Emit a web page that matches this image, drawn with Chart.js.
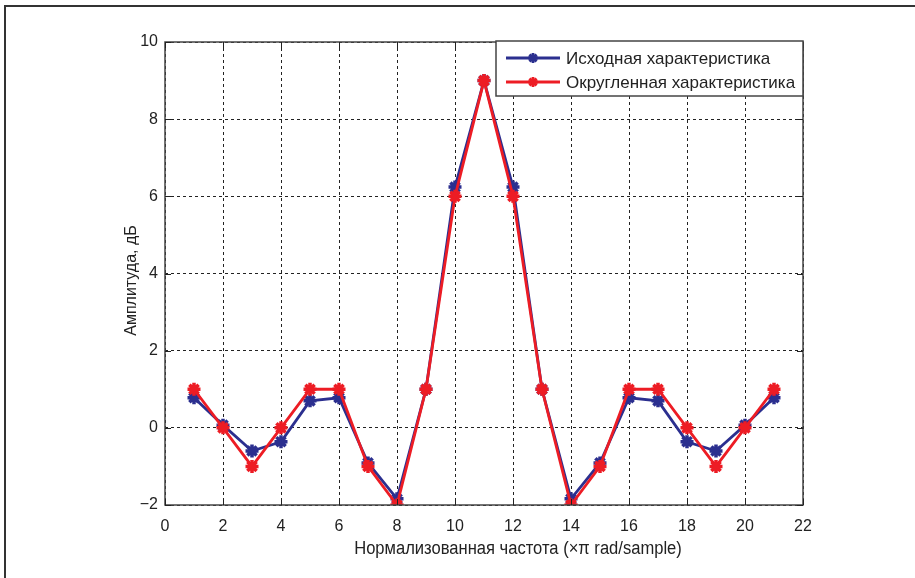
<!DOCTYPE html>
<html>
<head>
<meta charset="utf-8">
<script src="https://cdn.jsdelivr.net/npm/chart.js@4"></script>
<style>
  html, body { margin: 0; padding: 0; background: #fff; }
  #wrap { position: relative; width: 915px; height: 578px; }
</style>
</head>
<body>
<div id="wrap"><canvas id="c" width="915" height="578"></canvas></div>
<script>
// Frequency bins and amplitude responses
const freq = [1, 2, 3, 4, 5, 6, 7, 8, 9, 10, 11, 12, 13, 14, 15, 16, 17, 18, 19, 20, 21];
const original = [0.78, 0.07, -0.6, -0.36, 0.7, 0.78, -0.91, -1.84, 1.0, 6.24, 9.0, 6.24, 1.0, -1.84, -0.91, 0.78, 0.7, -0.36, -0.6, 0.07, 0.78];
const rounded = [1, 0, -1, 0, 1, 1, -1, -2, 1, 6, 9, 6, 1, -2, -1, 1, 1, 0, -1, 0, 1];
const seriesNames = ['Исходная характеристика', 'Округленная характеристика'];
const xTitle = 'Нормализованная частота (×π rad/sample)';
const yTitle = 'Амплитуда, дБ';
const xTicks = [0, 2, 4, 6, 8, 10, 12, 14, 16, 18, 20, 22];
const yTicks = [-2, 0, 2, 4, 6, 8, 10];

const BLUE = '#2b2f8f';
const RED = '#ed1c24';
const tickFont = { family: 'Liberation Sans, Arial, sans-serif', size: 16 };

const toPoints = ys => freq.map((x, i) => ({ x, y: ys[i] }));

// Box, inward ticks, axis titles, legend and page frame
const decorations = {
  id: 'decorations',
  afterDatasetsDraw(chart) {
    const ctx = chart.ctx;
    const { left, right, top, bottom } = chart.chartArea;
    const xs = chart.scales.x, ys = chart.scales.y;
    ctx.save();
    // plot box
    ctx.strokeStyle = '#444';
    ctx.lineWidth = 1.5;
    ctx.strokeRect(left, top, right - left, bottom - top);
    // inward tick marks
    ctx.lineWidth = 1;
    ctx.strokeStyle = '#222';
    ctx.beginPath();
    xTicks.forEach(v => {
      const px = Math.round(xs.getPixelForValue(v)) + 0.5;
      ctx.moveTo(px, bottom); ctx.lineTo(px, bottom - 6);
      ctx.moveTo(px, top); ctx.lineTo(px, top + 6);
    });
    yTicks.forEach(v => {
      const py = Math.round(ys.getPixelForValue(v)) + 0.5;
      ctx.moveTo(left, py); ctx.lineTo(left + 6, py);
      ctx.moveTo(right, py); ctx.lineTo(right - 6, py);
    });
    ctx.stroke();

    // axis titles
    ctx.fillStyle = '#222';
    ctx.textAlign = 'center';
    ctx.textBaseline = 'middle';
    ctx.save();
    ctx.translate((left + right) / 2 + 34, bottom + 44);
    ctx.scale(0.92, 1);
    ctx.font = '18px "Liberation Sans", Arial, sans-serif';
    ctx.fillText(xTitle, 0, 0);
    ctx.restore();
    ctx.save();
    ctx.translate(left - 33, (top + bottom) / 2 + 7);
    ctx.rotate(-Math.PI / 2);
    ctx.font = '16px "Liberation Sans", Arial, sans-serif';
    ctx.fillText(yTitle, 0, 0);
    ctx.restore();

    // legend in the upper right corner of the plot
    const lx = right - 307, ly = top - 1, lw = 307, lh = 55;
    ctx.fillStyle = '#fff';
    ctx.fillRect(lx, ly, lw, lh);
    ctx.strokeStyle = '#444';
    ctx.lineWidth = 1.5;
    ctx.strokeRect(lx, ly, lw, lh);
    const order = [1, 0];
    order.forEach((di, row) => {
      const ds = chart.data.datasets[di];
      const cy = ly + 17 + row * 24;
      ctx.strokeStyle = ds.borderColor;
      ctx.lineWidth = 2.8;
      ctx.beginPath();
      ctx.moveTo(lx + 10, cy); ctx.lineTo(lx + 64, cy);
      ctx.stroke();
      Chart.helpers.drawPoint(ctx, { pointStyle: 'star', radius: 5, borderWidth: 3.5 }, lx + 37, cy);
      ctx.fillStyle = '#222';
      ctx.textAlign = 'left';
      ctx.font = '17px "Liberation Sans", Arial, sans-serif';
      ctx.fillText(ds.label, lx + 70, cy + 1);
    });

    ctx.restore();
  },
  beforeDraw(chart) {
    const ctx = chart.ctx;
    ctx.save();
    ctx.fillStyle = '#fff';
    ctx.fillRect(0, 0, chart.width, chart.height);
    ctx.strokeStyle = '#333';
    ctx.lineWidth = 2;
    ctx.beginPath();
    ctx.moveTo(5, chart.height);
    ctx.lineTo(5, 6);
    ctx.lineTo(chart.width, 6);
    ctx.stroke();
    ctx.restore();
  }
};

new Chart(document.getElementById('c'), {
  type: 'line',
  data: {
    datasets: [
      {
        label: seriesNames[1],
        data: toPoints(rounded),
        borderColor: RED,
        backgroundColor: RED,
        borderWidth: 2.8,
        pointStyle: 'star',
        pointRadius: 6.5,
        pointBorderWidth: 3.5,
        pointBorderColor: RED,
        order: 0
      },
      {
        label: seriesNames[0],
        data: toPoints(original),
        borderColor: BLUE,
        backgroundColor: BLUE,
        borderWidth: 2.8,
        pointStyle: 'star',
        pointRadius: 6.5,
        pointBorderWidth: 3.5,
        pointBorderColor: BLUE,
        order: 1
      }
    ]
  },
  options: {
    responsive: false,
    animation: false,
    layout: { padding: { top: 42, right: 112, bottom: 0, left: 0 } },
    plugins: { legend: { display: false }, tooltip: { enabled: false } },
    scales: {
      x: {
        type: 'linear',
        min: 0, max: 22,
        afterBuildTicks(s) { s.ticks = xTicks.map(v => ({ value: v })); },
        afterFit(s) { s.height = 73; },
        grid: { color: '#222', lineWidth: 1, drawTicks: false },
        border: { display: false, dash: [3, 3] },
        ticks: { font: tickFont, color: '#222', padding: 12, maxRotation: 0 }
      },
      y: {
        type: 'linear',
        min: -2, max: 10,
        afterBuildTicks(s) { s.ticks = yTicks.map(v => ({ value: v })); },
        afterFit(s) { s.width = 165; },
        grid: { color: '#222', lineWidth: 1, drawTicks: false },
        border: { display: false, dash: [3, 3] },
        ticks: {
          font: tickFont, color: '#222', padding: 7,
          callback: v => (v < 0 ? '\u2212' + Math.abs(v) : String(v))
        }
      }
    }
  },
  plugins: [decorations]
});
</script>
</body>
</html>
